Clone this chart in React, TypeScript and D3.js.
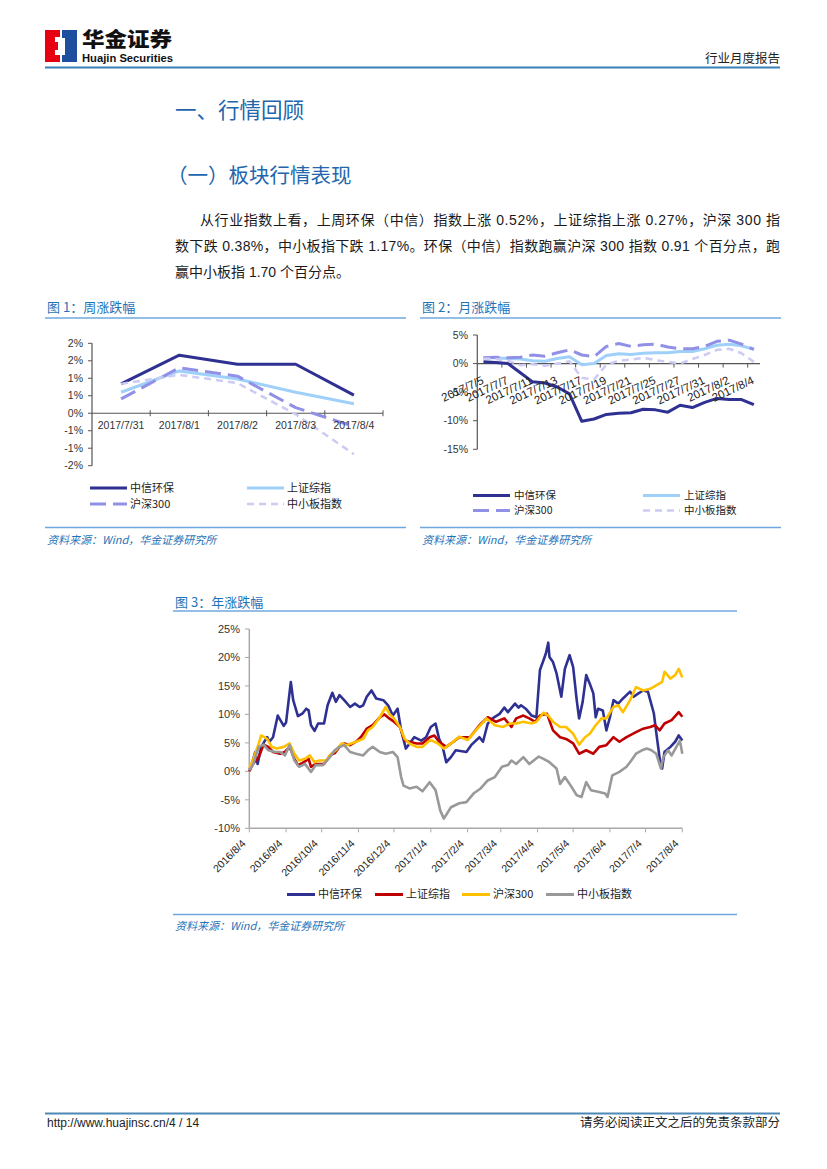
import React from "react";
import * as d3 from "d3";

const NUM = "'Liberation Sans', Arial, 'Noto Sans CJK SC', sans-serif";
const CJK = "'Noto Sans CJK SC', 'Liberation Sans', sans-serif";

const seriesNames = ["中信环保", "上证综指", "沪深300", "中小板指数"];

// ---------- 图1 周涨跌幅 ----------
const weekDates = ["2017/7/31", "2017/8/1", "2017/8/2", "2017/8/3", "2017/8/4"];
const weekHB = [0.84, 1.66, 1.4, 1.4, 0.52];
const weekSZ = [0.6, 1.21, 0.98, 0.6, 0.27];
const weekHS = [0.41, 1.3, 1.06, 0.16, -0.38];
const weekZX = [0.84, 1.1, 0.86, -0.03, -1.17];
const weekTicks = [-1.5, -1, -0.5, 0, 0.5, 1, 1.5, 2];
const weekTickLabels = ["-2%", "-1%", "-1%", "0%", "1%", "1%", "2%", "2%"];

// ---------- 图2 月涨跌幅 ----------
const monthDates = ["2017/7/5", "2017/7/6", "2017/7/7", "2017/7/10", "2017/7/11", "2017/7/12", "2017/7/13", "2017/7/14", "2017/7/17", "2017/7/18", "2017/7/19", "2017/7/20", "2017/7/21", "2017/7/24", "2017/7/25", "2017/7/26", "2017/7/27", "2017/7/28", "2017/7/31", "2017/8/1", "2017/8/2", "2017/8/3", "2017/8/4"];
const monthHB = [0.3, 0.2, 0.0, -1.6, -3.2, -3.4, -4.1, -5.3, -10.1, -9.7, -8.9, -8.7, -8.6, -8.0, -8.1, -8.5, -7.3, -7.7, -6.8, -6.1, -6.3, -6.3, -7.2];
const monthSZ = [1.0, 1.0, 0.9, 0.8, 0.5, 0.4, 0.9, 1.2, -0.2, 0.0, 1.4, 1.7, 1.6, 1.8, 1.9, 1.9, 2.1, 2.1, 2.6, 3.2, 3.4, 3.1, 2.5];
const monthHS = [1.0, 1.1, 1.0, 1.1, 1.5, 1.3, 1.9, 2.4, 1.5, 1.2, 3.0, 3.5, 3.0, 3.3, 3.4, 2.9, 2.6, 2.6, 3.0, 3.9, 4.1, 3.4, 2.5];
const monthZX = [0.9, 0.8, 0.5, -0.3, -0.1, -0.4, 0.0, 0.4, -2.5, -2.8, -0.2, 0.5, 0.7, 1.0, 0.6, 0.3, 0.0, 0.8, 1.5, 2.4, 2.6, 1.8, 0.3];
const monthTicks = [-15, -10, -5, 0, 5];

// ---------- 图3 年涨跌幅 ----------
const yearHB: [string, number][] = [["2016-08-04",0.3],["2016-08-05",0.5],["2016-08-09",3.4],["2016-08-11",1.3],["2016-08-14",4.3],["2016-08-19",6.0],["2016-08-21",5.2],["2016-08-24",6.0],["2016-08-28",9.8],["2016-09-02",8.0],["2016-09-04",8.6],["2016-09-08",15.7],["2016-09-10",12.5],["2016-09-14",9.7],["2016-09-18",10.2],["2016-09-21",11.0],["2016-09-23",10.7],["2016-09-25",8.1],["2016-09-28",7.1],["2016-10-01",8.4],["2016-10-06",8.4],["2016-10-09",11.6],["2016-10-13",13.8],["2016-10-16",12.2],["2016-10-19",13.4],["2016-10-23",12.5],["2016-10-28",11.3],["2016-11-01",11.9],["2016-11-05",11.3],["2016-11-08",11.6],["2016-11-11",13.1],["2016-11-15",14.2],["2016-11-19",12.8],["2016-11-25",12.5],["2016-11-29",11.6],["2016-12-03",9.8],["2016-12-07",11.0],["2016-12-10",7.2],["2016-12-14",4.0],["2016-12-21",6.0],["2016-12-27",5.4],["2016-12-31",6.0],["2017-01-04",7.8],["2017-01-08",8.4],["2017-01-11",5.7],["2017-01-14",4.3],["2017-01-17",1.6],["2017-01-21",2.5],["2017-01-25",3.7],["2017-02-03",3.4],["2017-02-07",4.6],["2017-02-14",6.0],["2017-02-17",5.2],["2017-02-21",8.4],["2017-02-25",9.3],["2017-03-03",10.1],["2017-03-07",11.2],["2017-03-10",10.4],["2017-03-16",11.9],["2017-03-19",11.2],["2017-03-21",11.6],["2017-03-25",11.0],["2017-03-30",9.8],["2017-04-03",9.5],["2017-04-06",17.8],["2017-04-09",19.5],["2017-04-11",20.7],["2017-04-13",22.6],["2017-04-14",20.1],["2017-04-17",19.2],["2017-04-20",17.2],["2017-04-24",13.1],["2017-04-27",18.0],["2017-04-29",19.2],["2017-05-01",20.4],["2017-05-04",18.3],["2017-05-07",12.5],["2017-05-09",9.3],["2017-05-12",12.2],["2017-05-15",16.9],["2017-05-18",15.4],["2017-05-21",13.7],["2017-05-23",9.5],["2017-05-25",11.0],["2017-05-29",10.7],["2017-06-01",7.2],["2017-06-04",9.5],["2017-06-07",12.5],["2017-06-11",11.9],["2017-06-15",12.8],["2017-06-21",14.0],["2017-06-24",13.1],["2017-06-28",13.7],["2017-07-02",14.2],["2017-07-06",14.0],["2017-07-11",10.2],["2017-07-13",6.9],["2017-07-16",2.2],["2017-07-18",0.5],["2017-07-20",3.4],["2017-07-25",4.3],["2017-07-29",5.2],["2017-08-01",6.3],["2017-08-04",5.4]];
const yearSZ: [string, number][] = [["2016-08-04",0.0],["2016-08-07",1.3],["2016-08-12",2.5],["2016-08-16",4.7],["2016-08-20",4.3],["2016-08-24",3.4],["2016-08-30",3.1],["2016-09-03",3.4],["2016-09-07",4.3],["2016-09-11",2.2],["2016-09-14",1.1],["2016-09-18",1.5],["2016-09-23",2.2],["2016-09-25",0.8],["2016-09-29",1.3],["2016-10-06",1.3],["2016-10-11",2.8],["2016-10-15",3.2],["2016-10-19",4.3],["2016-10-23",4.9],["2016-10-28",4.6],["2016-11-02",5.2],["2016-11-06",6.0],["2016-11-11",7.5],["2016-11-16",8.1],["2016-11-22",9.5],["2016-11-26",10.0],["2016-11-30",9.3],["2016-12-04",8.7],["2016-12-09",7.8],["2016-12-13",5.4],["2016-12-17",5.2],["2016-12-23",4.9],["2016-12-28",4.9],["2017-01-03",6.0],["2017-01-07",6.3],["2017-01-11",5.2],["2017-01-17",4.3],["2017-01-23",5.2],["2017-01-28",6.0],["2017-02-06",6.0],["2017-02-14",8.1],["2017-02-21",9.5],["2017-02-28",8.7],["2017-03-07",9.3],["2017-03-13",7.8],["2017-03-17",9.3],["2017-03-23",9.8],["2017-03-28",9.3],["2017-04-02",8.7],["2017-04-06",9.8],["2017-04-12",10.1],["2017-04-17",7.2],["2017-04-23",6.0],["2017-04-28",5.7],["2017-05-04",4.9],["2017-05-09",3.1],["2017-05-15",3.7],["2017-05-21",3.1],["2017-05-26",4.3],["2017-06-01",4.6],["2017-06-07",6.0],["2017-06-12",5.2],["2017-06-18",6.0],["2017-06-26",6.9],["2017-07-02",7.5],["2017-07-08",7.8],["2017-07-12",8.1],["2017-07-16",7.2],["2017-07-20",8.4],["2017-07-26",9.0],["2017-08-01",10.4],["2017-08-04",9.6]];
const yearHS: [string, number][] = [["2016-08-04",0.6],["2016-08-07",1.9],["2016-08-12",4.9],["2016-08-14",6.3],["2016-08-19",5.7],["2016-08-23",4.3],["2016-08-27",4.0],["2016-09-02",4.3],["2016-09-07",4.9],["2016-09-11",3.1],["2016-09-15",1.9],["2016-09-20",2.2],["2016-09-24",2.8],["2016-09-28",1.6],["2016-10-02",1.9],["2016-10-08",1.9],["2016-10-12",3.1],["2016-10-16",3.7],["2016-10-21",4.9],["2016-10-25",4.6],["2016-10-29",4.9],["2016-11-02",5.2],["2016-11-08",5.7],["2016-11-12",7.2],["2016-11-16",7.8],["2016-11-22",9.5],["2016-11-27",11.3],["2016-11-30",10.1],["2016-12-04",9.3],["2016-12-09",7.8],["2016-12-13",5.7],["2016-12-17",4.9],["2016-12-23",4.3],["2016-12-28",4.3],["2017-01-03",5.4],["2017-01-05",5.4],["2017-01-10",4.9],["2017-01-15",4.0],["2017-01-21",4.9],["2017-01-28",6.1],["2017-02-04",5.5],["2017-02-11",7.2],["2017-02-20",9.3],["2017-02-27",8.1],["2017-03-06",7.8],["2017-03-12",8.4],["2017-03-17",8.4],["2017-03-23",8.7],["2017-03-30",8.4],["2017-04-03",8.7],["2017-04-09",10.3],["2017-04-13",9.8],["2017-04-17",8.7],["2017-04-23",7.8],["2017-04-28",7.8],["2017-05-04",6.6],["2017-05-09",4.7],["2017-05-14",6.0],["2017-05-18",6.6],["2017-05-23",8.1],["2017-05-28",9.3],["2017-06-01",9.3],["2017-06-07",11.3],["2017-06-11",11.6],["2017-06-15",10.4],["2017-06-21",12.5],["2017-06-26",14.8],["2017-07-02",14.2],["2017-07-08",14.5],["2017-07-13",15.1],["2017-07-18",15.7],["2017-07-20",17.5],["2017-07-25",16.3],["2017-07-29",16.9],["2017-08-01",18.0],["2017-08-04",16.5]];
const yearZX: [string, number][] = [["2016-08-04",0.2],["2016-08-07",1.1],["2016-08-12",4.3],["2016-08-16",4.7],["2016-08-20",3.7],["2016-08-26",3.4],["2016-08-30",3.4],["2016-09-03",2.8],["2016-09-07",4.6],["2016-09-11",1.9],["2016-09-15",0.8],["2016-09-20",1.3],["2016-09-25",-0.1],["2016-09-29",1.1],["2016-10-05",1.1],["2016-10-11",2.5],["2016-10-15",3.7],["2016-10-19",4.3],["2016-10-23",4.6],["2016-10-28",3.4],["2016-11-02",3.1],["2016-11-08",2.8],["2016-11-12",3.7],["2016-11-16",4.3],["2016-11-22",3.4],["2016-11-27",3.1],["2016-12-03",3.4],["2016-12-07",2.5],["2016-12-10",-1.0],["2016-12-12",-2.5],["2016-12-17",-3.0],["2016-12-23",-2.7],["2016-12-28",-3.5],["2017-01-03",-1.9],["2017-01-08",-3.3],["2017-01-12",-6.9],["2017-01-15",-8.3],["2017-01-21",-6.3],["2017-01-28",-5.6],["2017-02-03",-5.4],["2017-02-09",-3.9],["2017-02-15",-3.0],["2017-02-21",-1.6],["2017-02-27",-1.0],["2017-03-05",0.8],["2017-03-10",1.1],["2017-03-13",1.9],["2017-03-17",1.3],["2017-03-23",2.5],["2017-03-28",1.3],["2017-04-05",2.6],["2017-04-09",2.2],["2017-04-14",1.6],["2017-04-20",0.5],["2017-04-23",-2.2],["2017-04-27",-1.0],["2017-05-01",-2.2],["2017-05-07",-4.2],["2017-05-11",-4.5],["2017-05-15",-1.9],["2017-05-19",-3.3],["2017-05-25",-3.6],["2017-05-31",-3.9],["2017-06-02",-4.5],["2017-06-06",-0.7],["2017-06-12",-0.1],["2017-06-18",0.8],["2017-06-22",1.9],["2017-06-26",3.1],["2017-07-01",3.7],["2017-07-05",4.0],["2017-07-09",3.7],["2017-07-13",3.1],["2017-07-17",0.5],["2017-07-19",2.5],["2017-07-23",3.7],["2017-07-26",2.8],["2017-07-30",4.3],["2017-08-02",5.4],["2017-08-04",3.1]];
const yearTickDates = ["2016-08-04","2016-09-04","2016-10-04","2016-11-04","2016-12-04","2017-01-04","2017-02-04","2017-03-04","2017-04-04","2017-05-04","2017-06-04","2017-07-04","2017-08-04"];
const yearTickLabels = ["2016/8/4","2016/9/4","2016/10/4","2016/11/4","2016/12/4","2017/1/4","2017/2/4","2017/3/4","2017/4/4","2017/5/4","2017/6/4","2017/7/4","2017/8/4"];
const yearTicks = [-10, -5, 0, 5, 10, 15, 20, 25];

const smallStyles = [
  { color: "#2e3192", width: 3, dash: undefined as string | undefined },
  { color: "#9fd0fa", width: 3, dash: undefined as string | undefined },
  { color: "#9090e6", width: 3, dash: "16,7" },
  { color: "#cbcbf3", width: 2.5, dash: "7,5" },
];
const yearColors = ["#2e3192", "#c00000", "#ffc000", "#999999"];

const TITLE_BLUE = "#1f73b8";
const RULE_BLUE = "#6fa8dc";

export default function App() {
  const parse = d3.timeParse("%Y-%m-%d");

  // ----- chart 1 -----
  const x1 = d3.scaleBand<string>().domain(weekDates).range([92, 383]);
  const y1 = d3.scaleLinear().domain([-1.5, 2]).range([465.7, 343.3]);
  const line1 = d3.line<number>().x((_, i) => (x1(weekDates[i]) as number) + x1.bandwidth() / 2).y((v) => y1(v));
  const week = [weekHB, weekSZ, weekHS, weekZX];

  // ----- chart 2 -----
  const x2 = d3.scaleBand<string>().domain(monthDates).range([477.3, 760]);
  const y2 = d3.scaleLinear().domain([-15, 5]).range([449.3, 335]);
  const line2 = d3.line<number>().x((_, i) => (x2(monthDates[i]) as number) + x2.bandwidth() / 2).y((v) => y2(v));
  const month = [monthHB, monthSZ, monthHS, monthZX];

  // ----- chart 3 -----
  const x3 = d3.scaleTime().domain([parse("2016-08-04")!, parse("2017-08-04")!]).range([249.3, 682.3]);
  const y3 = d3.scaleLinear().domain([-10, 25]).range([828.3, 629]);
  const line3 = d3.line<[string, number]>().x((d) => x3(parse(d[0])!)).y((d) => y3(d[1]));
  const year = [yearHB, yearSZ, yearHS, yearZX];

  const legend1Pos = [[90, 488], [247, 488], [90, 504], [247, 504]];
  const legend2Pos = [[473, 495.5], [643, 495.5], [473, 510.5], [643, 510.5]];
  const legend3X = [287, 375, 462, 546];

  return (
    <svg width={827} height={1169} style={{ position: "absolute", left: 0, top: 0, background: "#fff" }}>
      <rect x={0} y={0} width={827} height={1169} fill="#fff" />
      {/* Header */}
      <g>
        <rect x={45} y={30} width={15} height={32} fill="#e60012" />
        <rect x={62} y={30} width={15} height={32} fill="#1e4f9e" />
        <polygon points="55,37 60,37 60,55 55,55 55,50 58,50 58,42 55,42" fill="#fff" />
        <rect x={62} y={38} width={3} height={17} fill="#fff" />
        <text x={82} y={47} fontFamily={CJK} fontSize={20} fontWeight={900} fill="#111" textLength={90} lengthAdjust="spacingAndGlyphs">华金证券</text>
        <text x={82} y={62} fontFamily={NUM} fontSize={10} fontWeight={700} fill="#111" textLength={91} lengthAdjust="spacingAndGlyphs">Huajin Securities</text>
        <text x={780} y={63} textAnchor="end" fontFamily={CJK} fontSize={12.5} fill="#222">行业月度报告</text>
        <line x1={45} x2={780} y1={67.5} y2={67.5} stroke="#3d7fb8" strokeWidth={2} />
      </g>

      {/* Headings */}
      <text x={175} y={118} fontFamily={CJK} fontSize={21.5} fill="#2266ad">一、行情回顾</text>
      <text x={167} y={183} fontFamily={CJK} fontSize={20.5} fill="#2266ad">（一）板块行情表现</text>

      {/* Paragraph */}
      <g fontFamily={NUM} fontSize={14} fill="#1a1a1a">
        <text x={200} y={225} textLength={580} lengthAdjust="spacing">从行业指数上看，上周环保（中信）指数上涨 0.52%，上证综指上涨 0.27%，沪深 300 指</text>
        <text x={175} y={251} textLength={605} lengthAdjust="spacing">数下跌 0.38%，中小板指下跌 1.17%。环保（中信）指数跑赢沪深 300 指数 0.91 个百分点，跑</text>
        <text x={175} y={277}>赢中小板指 1.70 个百分点。</text>
      </g>

      {/* ===== Chart 1 ===== */}
      <text x={47} y={312} fontFamily={CJK} fontSize={13} fill={TITLE_BLUE}>图 1：周涨跌幅</text>
      <line x1={45} x2={406} y1={318} y2={318} stroke={RULE_BLUE} strokeWidth={1.3} />
      <g fontFamily={NUM} fontSize={10.5} fill="#333">
        {weekTicks.map((t, i) => (
          <g key={"w" + t}>
            <line x1={88} x2={92} y1={y1(t)} y2={y1(t)} stroke="#555" strokeWidth={1} />
            <text x={83} y={y1(t)} dy="0.35em" textAnchor="end">{weekTickLabels[i]}</text>
          </g>
        ))}
      </g>
      <line x1={92} x2={92} y1={y1(2)} y2={y1(-1.5)} stroke="#555" strokeWidth={1.2} />
      <line x1={92} x2={383} y1={y1(0)} y2={y1(0)} stroke="#555" strokeWidth={1.2} />
      {weekDates.map((d) => (
        <line key={"wt" + d} x1={(x1(d) as number) + x1.bandwidth()} x2={(x1(d) as number) + x1.bandwidth()} y1={y1(0) - 3} y2={y1(0) + 3} stroke="#555" />
      ))}
      {week.map((s, i) => (
        <path key={"wl" + i} d={line1(s) as string} fill="none" stroke={smallStyles[i].color} strokeWidth={smallStyles[i].width} strokeDasharray={smallStyles[i].dash} strokeLinejoin="round" />
      ))}
      <g fontFamily={NUM} fontSize={10.5} fill="#333">
        {weekDates.map((d) => (
          <text key={"wx" + d} x={(x1(d) as number) + x1.bandwidth() / 2} y={425} dy="0.35em" textAnchor="middle">{d}</text>
        ))}
      </g>
      <g fontFamily={CJK} fontSize={11} fill="#222">
        {seriesNames.map((n, i) => (
          <g key={"lg1" + n}>
            <line x1={legend1Pos[i][0]} x2={legend1Pos[i][0] + 37} y1={legend1Pos[i][1]} y2={legend1Pos[i][1]} stroke={smallStyles[i].color} strokeWidth={smallStyles[i].width} strokeDasharray={smallStyles[i].dash} />
            <text x={legend1Pos[i][0] + 40} y={legend1Pos[i][1]} dy="0.35em">{n}</text>
          </g>
        ))}
      </g>
      <line x1={45} x2={406} y1={527.5} y2={527.5} stroke={RULE_BLUE} strokeWidth={1.3} />
      <text x={47} y={544} fontFamily={CJK} fontSize={11} fontStyle="italic" fill={TITLE_BLUE}>资料来源：Wind，华金证券研究所</text>

      {/* ===== Chart 2 ===== */}
      <text x={422} y={312} fontFamily={CJK} fontSize={13} fill={TITLE_BLUE}>图 2：月涨跌幅</text>
      <line x1={420} x2={781} y1={318} y2={318} stroke={RULE_BLUE} strokeWidth={1.3} />
      <g fontFamily={NUM} fontSize={10.5} fill="#333">
        {monthTicks.map((t) => (
          <g key={"m" + t}>
            <line x1={473} x2={477.3} y1={y2(t)} y2={y2(t)} stroke="#555" />
            <text x={468} y={y2(t)} dy="0.35em" textAnchor="end">{t + "%"}</text>
          </g>
        ))}
      </g>
      <line x1={477.3} x2={477.3} y1={y2(5)} y2={y2(-15)} stroke="#555" strokeWidth={1.2} />
      <line x1={477.3} x2={760} y1={y2(0)} y2={y2(0)} stroke="#555" strokeWidth={1.2} />
      {monthDates.map((d, i) => (i % 2 === 1 ? (
        <line key={"mt" + d} x1={(x2(d) as number) + x2.bandwidth()} x2={(x2(d) as number) + x2.bandwidth()} y1={y2(0)} y2={y2(0) + 4} stroke="#555" />
      ) : null))}
      {month.map((s, i) => (
        <path key={"ml" + i} d={line2(s) as string} fill="none" stroke={smallStyles[i].color} strokeWidth={smallStyles[i].width} strokeDasharray={smallStyles[i].dash} strokeLinejoin="round" />
      ))}
      <g fontFamily={NUM} fontSize={11.5} fill="#222">
        {monthDates.map((d, i) => (i % 2 === 0 ? (
          <text key={"mx" + d} transform={`translate(${(x2(d) as number) + x2.bandwidth() / 2 + 1},${383}) rotate(-25)`} textAnchor="end">{d}</text>
        ) : null))}
      </g>
      <g fontFamily={CJK} fontSize={10.5} fill="#222">
        {seriesNames.map((n, i) => (
          <g key={"lg2" + n}>
            <line x1={legend2Pos[i][0]} x2={legend2Pos[i][0] + 37} y1={legend2Pos[i][1]} y2={legend2Pos[i][1]} stroke={smallStyles[i].color} strokeWidth={smallStyles[i].width} strokeDasharray={smallStyles[i].dash} />
            <text x={legend2Pos[i][0] + 41} y={legend2Pos[i][1]} dy="0.35em">{n}</text>
          </g>
        ))}
      </g>
      <line x1={420} x2={781} y1={527.5} y2={527.5} stroke={RULE_BLUE} strokeWidth={1.3} />
      <text x={422} y={544} fontFamily={CJK} fontSize={11} fontStyle="italic" fill={TITLE_BLUE}>资料来源：Wind，华金证券研究所</text>

      {/* ===== Chart 3 ===== */}
      <text x={175} y={607} fontFamily={CJK} fontSize={13} fill={TITLE_BLUE}>图 3：年涨跌幅</text>
      <line x1={173} x2={737} y1={611} y2={611} stroke={RULE_BLUE} strokeWidth={1.3} />
      <g fontFamily={NUM} fontSize={11} fill="#333">
        {yearTicks.map((t) => (
          <g key={"y" + t}>
            <line x1={245} x2={249.3} y1={y3(t)} y2={y3(t)} stroke="#aaa" />
            <text x={240} y={y3(t)} dy="0.35em" textAnchor="end">{t + "%"}</text>
          </g>
        ))}
      </g>
      <line x1={249.3} x2={249.3} y1={y3(25)} y2={y3(-10)} stroke="#aaa" strokeWidth={1.5} />
      <line x1={249.3} x2={682.3} y1={y3(-10)} y2={y3(-10)} stroke="#aaa" strokeWidth={1.5} />
      {yearTickDates.map((d) => (
        <line key={"yt" + d} x1={x3(parse(d)!)} x2={x3(parse(d)!)} y1={y3(-10)} y2={y3(-10) + 4} stroke="#aaa" />
      ))}
      {year.map((s, i) => (
        <path key={"yl" + i} d={line3(s) as string} fill="none" stroke={yearColors[i]} strokeWidth={2.6} strokeLinejoin="round" />
      ))}
      <g fontFamily={NUM} fontSize={10.5} fill="#222">
        {yearTickDates.map((d, i) => (
          <text key={"yx" + d} transform={`translate(${x3(parse(d)!) - 3},${844}) rotate(-45)`} textAnchor="end">{yearTickLabels[i]}</text>
        ))}
      </g>
      <g fontFamily={CJK} fontSize={11} fill="#222">
        {seriesNames.map((n, i) => (
          <g key={"lg3" + n}>
            <line x1={legend3X[i]} x2={legend3X[i] + 28} y1={894.5} y2={894.5} stroke={yearColors[i]} strokeWidth={3} />
            <text x={legend3X[i] + 31} y={894.5} dy="0.35em">{n}</text>
          </g>
        ))}
      </g>
      <line x1={173} x2={737} y1={914.5} y2={914.5} stroke={RULE_BLUE} strokeWidth={1.3} />
      <text x={175} y={930} fontFamily={CJK} fontSize={11} fontStyle="italic" fill={TITLE_BLUE}>资料来源：Wind，华金证券研究所</text>

      {/* Footer */}
      <line x1={45} x2={780} y1={1113.5} y2={1113.5} stroke="#4d88b5" strokeWidth={2} />
      <text x={47} y={1127} fontFamily={NUM} fontSize={12} fill="#222">http://www.huajinsc.cn/4 / 14</text>
      <text x={780} y={1127} textAnchor="end" fontFamily={CJK} fontSize={12.5} fill="#222">请务必阅读正文之后的免责条款部分</text>
    </svg>
  );
}
